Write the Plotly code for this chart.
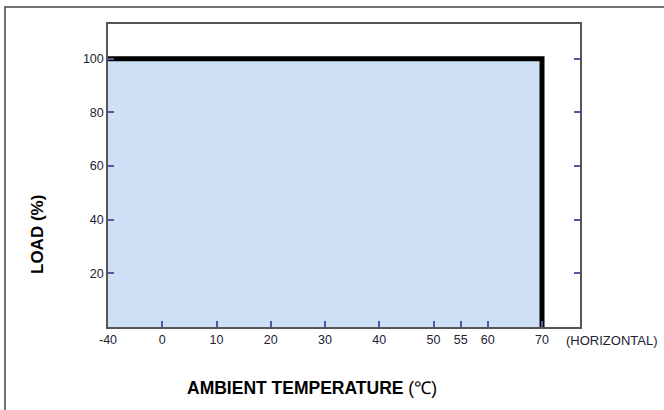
import plotly.graph_objects as go

# Data
temperature = [-40, 70, 70]          # derating curve (deg C)
load = [100, 100, 0]                 # load (%)
x_tick_values = [-40, 0, 10, 20, 30, 40, 50, 55, 60, 70]
y_tick_values = [20, 40, 60, 80, 100]

def xpos(t):
    # axis compressed below 0 (-40..0 drawn as a quarter of the scale)
    return t / 4 if t < 0 else t

fig = go.Figure()
fig.add_trace(go.Scatter(
    x=[xpos(t) for t in temperature] + [xpos(temperature[0])],
    y=load + [0],
    fill="toself", fillcolor="#cde0f4",
    line=dict(width=0), mode="lines", hoverinfo="skip", showlegend=False))
fig.add_trace(go.Scatter(
    x=[xpos(t) for t in temperature], y=load,
    mode="lines", line=dict(color="black", width=5), showlegend=False))

FONT = "Liberation Sans, Arial"
tickfont = dict(family=FONT, size=12.5, color="#222233")
fig.update_xaxes(range=[-10, 77], tickvals=[xpos(t) for t in x_tick_values],
                 ticktext=[str(t) for t in x_tick_values],
                 ticks="inside", ticklen=6, tickcolor="#5555aa", tickwidth=1.5,
                 showline=True, linecolor="#555555", linewidth=1.5, mirror=True,
                 showgrid=False, zeroline=False, tickfont=tickfont)
fig.update_yaxes(range=[0, 113], tickvals=y_tick_values,
                 ticks="inside", ticklen=6, tickcolor="#5555aa", tickwidth=1.5,
                 showline=True, linecolor="#555555", linewidth=1.5, mirror="ticks",
                 showgrid=False, zeroline=False, tickfont=tickfont)

PL, PT, PW, PH = 108, 24, 472, 303
def px(x):
    return (x - PL) / PW
def py(y):
    return (PT + PH - y) / PH

fig.add_annotation(text="<b>LOAD (%)</b>", xref="paper", yref="paper",
                   x=px(37), y=py(235), textangle=-90, xanchor="center", yanchor="middle",
                   showarrow=False, font=dict(family=FONT, size=17, color="black"))
fig.add_annotation(text="(HORIZONTAL)", xref="paper", yref="paper",
                   x=px(564), y=py(340), xanchor="left", yanchor="middle",
                   showarrow=False, font=dict(family=FONT, size=13, color="#222233"))
fig.add_annotation(text="<b>AMBIENT TEMPERATURE </b>(℃)", xref="paper", yref="paper",
                   x=px(312), y=py(388), xanchor="center", yanchor="middle",
                   showarrow=False, font=dict(family=FONT, size=17.5, color="black"))
# outer frame
fig.add_shape(type="rect", xref="paper", yref="paper",
              x0=px(5), x1=px(690), y0=py(440), y1=py(7),
              line=dict(color="#444444", width=1.5))

fig.update_layout(width=664, height=410, margin=dict(l=PL, r=664 - PL - PW, t=PT, b=410 - PT - PH),
                  plot_bgcolor="white", paper_bgcolor="white")
fig.write_html("out.html", config={"displayModeBar": False},
               post_script="document.body.style.margin='0';")
